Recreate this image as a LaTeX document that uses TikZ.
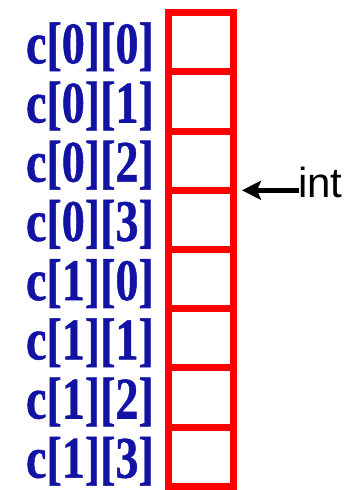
\documentclass[tikz,border=0pt]{standalone}
\usepackage{fontspec}
\usepackage{graphicx}
\setmainfont{Liberation Serif}[BoldFeatures={FakeBold=0.9}]
\newfontfamily\arialish{Liberation Sans}
\usetikzlibrary{arrows.meta,calc}
\definecolor{labelblue}{RGB}{18,18,165}
\definecolor{cellred}{RGB}{255,0,0}
\tikzset{
  cellbox/.style={draw=cellred, line width=7pt, rectangle, inner sep=0pt, outer sep=0pt,
    minimum width=64.5pt, minimum height=59.2pt},
  idxlabel/.style={anchor=base east, inner sep=0pt, text=labelblue,
    font=\fontsize{59}{60}\selectfont\bfseries},
  typelabel/.style={anchor=base west, inner sep=0pt, font=\arialish\fontsize{42}{44}\selectfont},
  pointer/.style={line width=4.5pt, black,
    -{Stealth[length=19pt 0 0,width=19pt 0 0,inset=4pt 0]}}
}
\newcommand{\narrow}[1]{\scalebox{0.78}[1]{#1}}
\begin{document}
\begin{tikzpicture}[x=1pt,y=-1pt]
  \useasboundingbox (0,0) rectangle (346,490);
  % the eight consecutive int cells
  \foreach \i/\lab in {0/{c[0][0]},1/{c[0][1]},2/{c[0][2]},3/{c[0][3]},
                       4/{c[1][0]},5/{c[1][1]},6/{c[1][2]},7/{c[1][3]}} {
    \node[cellbox] (cell\i) at (200.75,{12.7+(\i+0.5)*59.2}) {};
    \node[idxlabel] (lab\i) at ($(cell\i.west)+(-14.5,21)$) {\narrow{\lab}};
  }
  % element type marker, pointing at the boundary between c[0][2] and c[0][3]
  \node[typelabel] (type) at (298,197) {int};
  \coordinate (tip) at ($(cell2.south east)+(9,0)$);
  \coordinate (tail) at (type.west |- tip);
  \draw[pointer] ($(tail)+(1,0)$) -- (tip);
\end{tikzpicture}
\end{document}
